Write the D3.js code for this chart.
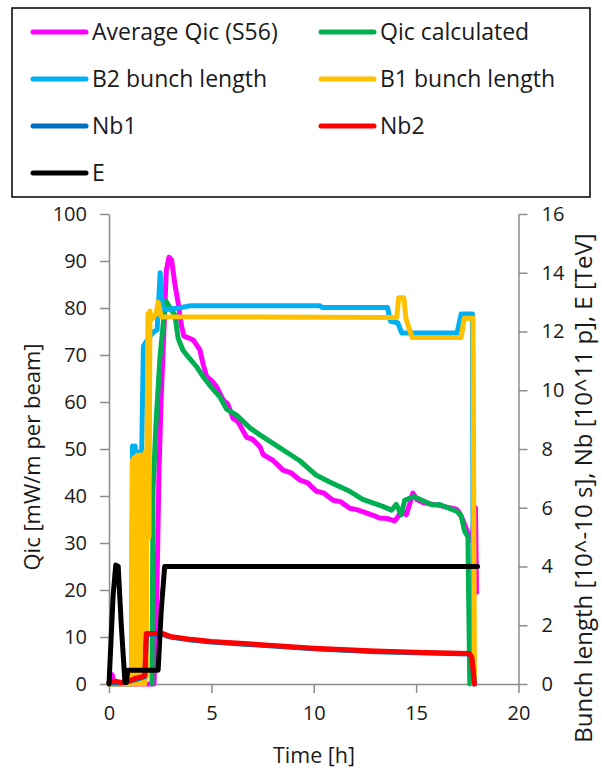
<!DOCTYPE html>
<html>
<head>
<meta charset="utf-8">
<script src="https://cdn.jsdelivr.net/npm/d3@7"></script>
<style>
  body { margin: 0; background: #fff; }
  svg text { font-family: "Open Sans", sans-serif; fill: #1a1a1a; }
</style>
</head>
<body>
<script>
// series values, [time h, value]
var qicAvg = [[0,0],[0.15,2],[0.25,0],[2.2,0],[2.34,20],[2.44,45],[2.54,60],[2.68,75],[2.8,88],[2.93,90.8],
  [3.06,90.2],[3.22,85],[3.38,81],[3.55,76],[3.66,74],[3.9,73.6],[4.11,73.2],[4.44,71.1],[4.6,68],[4.77,65.4],
  [5.0,64.6],[5.25,63.3],[5.58,60.4],[5.8,59.6],[6.06,56.5],[6.3,55.8],[6.72,52.5],[7.0,52.1],[7.37,50.5],
  [7.53,48.8],[8.0,47.6],[8.5,45.5],[8.9,44.9],[9.32,43.4],[9.7,42.8],[10.13,41.0],[10.5,40.6],[10.94,39.1],
  [11.3,38.8],[11.76,37.4],[12.1,37.1],[12.49,36.5],[12.9,35.9],[13.22,35.3],[13.6,35.2],[13.95,34.7],[14.1,35.5],
  [14.28,36.8],[14.52,36.0],[14.7,38.5],[14.84,40.6],[15.05,39.2],[15.33,38.6],[15.7,38.3],[16.15,38.0],
  [16.5,37.6],[16.96,37.2],[17.1,36.5],[17.28,34.9],[17.53,32.1],[17.71,30.5],[17.9,37.5],[17.95,19.5]];

var qicCalc = [[2.1,0],[2.15,41],[2.29,55],[2.49,69.5],[2.65,76.7],[2.78,81.5],[2.98,80],[3.22,78.5],[3.38,73.5],
  [3.61,71],[3.87,69.6],[4.28,67.5],[4.6,65.4],[4.93,63.5],[5.41,61.1],[5.74,58.5],[6.23,57.2],[6.88,54.5],
  [7.37,53.0],[8.01,51.2],[9.32,47.5],[10.13,44.4],[10.78,43.0],[11.76,41.0],[12.39,39.3],[13.37,37.8],
  [13.8,37.0],[14.03,38.2],[14.28,36.0],[14.44,39.1],[14.88,39.9],[15.8,38.1],[16.15,38.2],[17.0,36.7],
  [17.2,35.8],[17.37,32.5],[17.53,31.3],[17.62,0]];

var b2Length = [[0,0],[1.1,0],[1.15,8.1],[1.2,0.5],[1.28,8.1],[1.35,0.3],[1.45,7.9],[1.52,0.3],[1.6,8.0],
  [1.68,11.5],[1.95,11.8],[2.2,12.0],[2.35,12.05],[2.5,14.0],[2.6,12.8],[2.8,12.75],[3.4,12.8],[4.0,12.88],
  [10.3,12.88],[10.4,12.82],[13.6,12.82],[13.75,12.35],[14.1,12.3],[14.3,11.95],[17.0,11.95],[17.2,12.6],
  [17.75,12.6],[17.8,0]];

var b1Length = [[0,0],[1.1,0],[1.14,7.6],[1.18,0],[1.22,7.7],[1.26,0],[1.3,7.7],[1.34,0],[1.38,7.8],[1.42,0],
  [1.46,7.7],[1.5,0],[1.54,7.8],[1.58,0],[1.62,7.8],[1.66,0],[1.7,7.8],[1.74,0],[1.78,7.9],[1.82,0.2],
  [1.86,7.9],[1.9,12.6],[1.95,5],[2.0,12.7],[2.05,12.4],[2.3,12.6],[2.4,13.0],[2.55,12.5],[14.05,12.48],[14.15,13.15],
  [14.4,13.15],[14.5,12.45],[14.8,11.8],[17.2,11.8],[17.35,12.45],[17.78,12.45],[17.85,0]];

var nb2 = [[0,0.05],[0.3,0.1],[0.6,0.05],[1.0,0.1],[1.3,0.2],[1.6,0.25],[1.75,0.3],[1.82,1.72],[2.6,1.72],
  [3.0,1.62],[4.0,1.52],[5.0,1.45],[7.0,1.36],[10.0,1.22],[13.0,1.12],[15.0,1.08],[17.6,1.04],[17.72,0.9],[17.85,0]];

var nb1 = [[0,0.03],[0.6,0.03],[1.3,0.15],[1.75,0.25],[1.83,1.69],[2.6,1.69],[3.0,1.6],[4.0,1.5],[5.0,1.43],
  [7.0,1.34],[10.0,1.2],[13.0,1.1],[15.0,1.06],[17.6,1.02],[17.72,0.88],[17.85,0]];

var energy = [[0,0],[0.2,3.0],[0.33,4.05],[0.45,4.0],[0.6,2.0],[0.78,0.05],[0.85,0.05],[0.92,0.47],[2.4,0.47],
  [2.55,2.5],[2.72,4.0],[18.0,4.0]];

var xTicks = [0, 5, 10, 15, 20];
var leftTicks = [0, 10, 20, 30, 40, 50, 60, 70, 80, 90, 100];
var rightTicks = [0, 2, 4, 6, 8, 10, 12, 14, 16];

var legendNames = ["Average Qic (S56)", "Qic calculated", "B2 bunch length", "B1 bunch length", "Nb1", "Nb2", "E"];
var legendColors = ["#ff00ff", "#00b050", "#00b0f0", "#ffc000", "#0070c0", "#ff0000", "#000000"];

var plot = {left: 109, right: 518.5, top: 214, bottom: 684};

var svg = d3.select("body").append("svg")
    .attr("width", 602)
    .attr("height", 774);

var x = d3.scaleLinear().domain([0, 20]).range([plot.left, plot.right]);
var yL = d3.scaleLinear().domain([0, 100]).range([plot.bottom, plot.top]);
var yR = d3.scaleLinear().domain([0, 16]).range([plot.bottom, plot.top]);

// axes
var axisColor = "#8c8c8c";
function styleAxis(g) {
  g.selectAll("path, line").attr("stroke", axisColor).attr("stroke-width", 1.5);
  g.selectAll("text").style("font-size", "20px").attr("fill", "#1a1a1a");
}

svg.append("g")
    .attr("transform", "translate(0," + plot.bottom + ")")
    .call(d3.axisBottom(x).tickValues(xTicks).tickSize(9).tickSizeOuter(0).tickPadding(13))
    .call(styleAxis);

svg.append("g")
    .attr("transform", "translate(" + plot.left + ",0)")
    .call(d3.axisLeft(yL).tickValues(leftTicks).tickSize(9).tickSizeOuter(0).tickPadding(13))
    .call(styleAxis);

svg.append("g")
    .attr("transform", "translate(" + plot.right + ",0)")
    .call(d3.axisRight(yR).tickValues(rightTicks).tickSize(9).tickSizeOuter(0).tickPadding(14))
    .call(styleAxis);

// lines
function drawLine(data, yScale, color) {
  var line = d3.line().x(function(d) { return x(d[0]); }).y(function(d) { return yScale(d[1]); });
  svg.append("path")
      .datum(data)
      .attr("d", line)
      .attr("fill", "none")
      .attr("stroke", color)
      .attr("stroke-width", 5)
      .attr("stroke-linejoin", "round")
      .attr("stroke-linecap", "round");
}

drawLine(qicAvg, yL, legendColors[0]);
drawLine(qicCalc, yL, legendColors[1]);
drawLine(b2Length, yR, legendColors[2]);
drawLine(b1Length, yR, legendColors[3]);
drawLine(nb1, yR, legendColors[4]);
drawLine(nb2, yR, legendColors[5]);
drawLine(energy, yR, legendColors[6]);

// axis titles
svg.append("text")
    .attr("transform", "translate(40,457) rotate(-90)")
    .attr("text-anchor", "middle")
    .style("font-size", "22px")
    .text("Qic [mW/m per beam]");

svg.append("text")
    .attr("transform", "translate(592,488) rotate(-90)")
    .attr("text-anchor", "middle")
    .style("font-size", "24px")
    .text("Bunch length [10^-10 s], Nb [10^11 p], E [TeV]");

svg.append("text")
    .attr("x", 314)
    .attr("y", 763)
    .attr("text-anchor", "middle")
    .style("font-size", "21.5px")
    .text("Time [h]");

// legend
svg.append("rect")
    .attr("x", 12).attr("y", 8)
    .attr("width", 578).attr("height", 189)
    .attr("fill", "#fff")
    .attr("stroke", "#000")
    .attr("stroke-width", 1.5);

var leg = svg.append("g").selectAll("g")
    .data(legendNames)
    .join("g")
    .attr("transform", function(d, i) {
      return "translate(" + (i % 2 === 0 ? 33 : 321) + "," + (32 + Math.floor(i / 2) * 47) + ")";
    });

leg.append("line")
    .attr("x1", 0).attr("x2", 53)
    .attr("stroke", function(d, i) { return legendColors[i]; })
    .attr("stroke-width", 5)
    .attr("stroke-linecap", "round");

leg.append("text")
    .attr("x", 59)
    .attr("dy", "0.35em")
    .style("font-size", "23px")
    .text(function(d) { return d; });
</script>
</body>
</html>
